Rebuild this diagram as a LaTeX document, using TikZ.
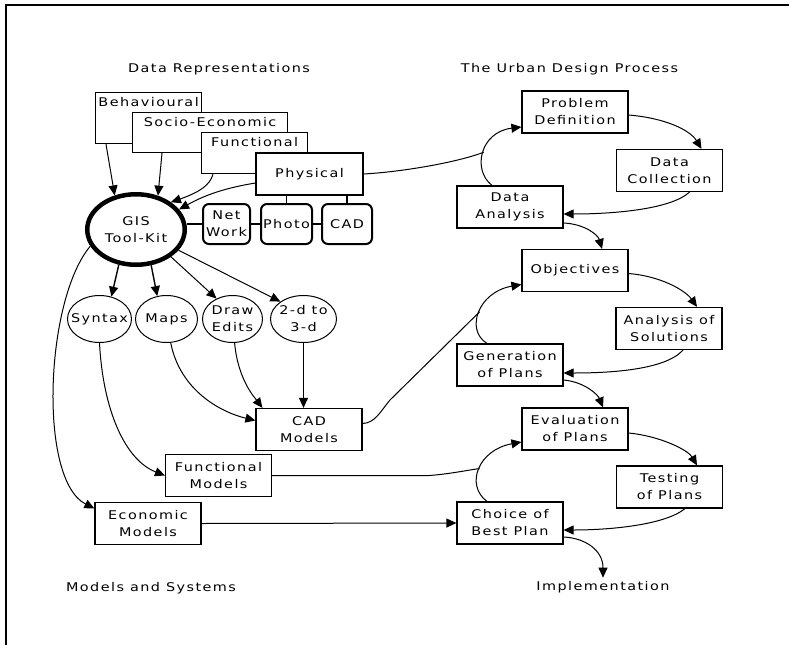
\documentclass[tikz,border=0pt]{standalone}
\usepackage{fontspec}
\setmainfont{DejaVu Sans}[FakeStretch=1.2,LetterSpace=12]
\usetikzlibrary{arrows.meta, shapes.geometric, calc}

\tikzset{
  box/.style={draw, fill=white, line width=1.2pt, minimum width=106pt, minimum height=42pt, inner sep=1pt, align=center},
  databox/.style={draw, fill=white, line width=1.2pt, anchor=north west, inner sep=0pt, align=center, text height=14pt},
  tool/.style={draw, fill=white, rounded corners=6pt, line width=2pt, minimum height=40pt, inner sep=0pt, align=center},
  oval/.style={draw, ellipse, line width=1pt, minimum height=47pt, inner sep=0pt, align=center},
  link/.style={line width=1pt, -{Triangle[length=10pt,width=9pt]}},
  bar/.style={line width=1.5pt}
}
\newcommand{\zw}[1]{\makebox[0pt]{#1}}

\begin{document}
\begin{tikzpicture}[x=1pt, y=-1pt, font=\fontsize{12pt}{17pt}\selectfont]
\useasboundingbox (0,0) rectangle (789,645);
\draw[line width=1.5pt] (6,645) -- (6,5) -- (789,5); %frame

\node (tdr) at (219,69) {Data Representations};
\node (tudp) at (569.5,69) {The Urban Design Process};
\node (tms) at (151,588) {Models and Systems};
\node (timp) at (603,587) {Implementation};

% data representations
\node[databox, text width=106pt, text depth=37pt] (beh) at (95,92) {Behavioural};
\node[databox, text width=155pt, text depth=26pt] (soc) at (132,112) {Socio-Economic};
\node[databox, text width=106pt, text depth=27pt] (fun) at (201,132) {Functional};
\node[box, minimum width=107pt] (phy) at (309.5,174) {Physical};

\node[draw, ellipse, line width=4.5pt, minimum width=97.5pt, minimum height=70.5pt, inner sep=0pt, align=center] (gis) at (136,229.5) {\zw{GIS}\\\zw{Tool-Kit}};
\node[tool, minimum width=47pt] (net) at (226.5,224) {\zw{Net}\\\zw{Work}};
\node[tool, minimum width=51pt] (pho) at (286.5,224) {\zw{Photo}};
\node[tool, minimum width=50pt] (cad) at (347,224) {\zw{CAD}};

\node[oval, minimum width=64pt] (syn) at (99.5,319) {\zw{Syntax}};
\node[oval, minimum width=62pt] (map) at (166.5,319) {\zw{Maps}};
\node[oval, minimum width=60pt] (dre) at (232.5,319) {\zw{Draw}\\\zw{Edits}};
\node[oval, minimum width=66pt] (two) at (303.5,319) {\zw{2-d to}\\\zw{3-d}};

% models and systems
\node[box] (cadm) at (309,429.5) {CAD\\Models};
\node[box] (fnm) at (218.5,475.5) {Functional\\Models};
\node[box] (ecm) at (148,523.5) {Economic\\Models};

% urban design process
\node[box] (prob) at (575,112) {Problem\\Definition};
\node[box] (dcol) at (669.5,170.5) {Data\\Collection};
\node[box] (dana) at (510,207) {Data\\Analysis};
\node[box] (obj) at (575,270.5) {Objectives};
\node[box] (aos) at (669,328.5) {Analysis of\\Solutions};
\node[box] (gen) at (510,365) {Generation\\of Plans};
\node[box] (evl) at (575,429) {Evaluation\\of Plans};
\node[box] (tst) at (669.5,487) {Testing\\of Plans};
\node[box] (cho) at (510,523) {Choice of\\Best Plan};

% tool-kit links
\draw[bar] (net.west) -- (net.west -| gis.east);
\draw[bar] (net) -- (pho);
\draw[bar] (pho) -- (cad);
\draw[bar] (pho.north) -- (pho.north |- phy.south);
\draw[bar] (cad.north) -- (cad.north |- phy.south);

% into the tool-kit
\draw[link] ([xshift=11pt]beh.south west) -- (gis.122);
\draw[link] ([xshift=30pt]soc.south west) -- (gis.57);
\draw[link] ([xshift=12pt]fun.south west) .. controls (210,185) and (200,192) .. (gis.38);
\draw[link] ([yshift=-9pt]phy.west) .. controls (225,188) and (205,195) .. (gis.25);

% out of the tool-kit
\draw[link, line width=1.4pt] (gis.244) -- (syn.62);
\draw[link, line width=1.4pt] (gis.293) -- (map.112);
\draw[link] (gis.322) -- (dre.128);
\draw[link] (gis.334) -- (two.143);
\draw[link] (gis.200) .. controls (45,300) and (38,480) .. ([yshift=15pt]ecm.west);

\draw[link] (syn.south) .. controls (103,410) and (125,460) .. (fnm.west);
\draw[link] (map.-80) .. controls (180,390) and (220,412) .. ([yshift=9pt]cadm.west);
\draw[link] (dre.-85) .. controls (238,380) and (255,398) .. ([xshift=7pt]cadm.north west);
\draw[link] (two.south) -- (two.south |- cadm.north);

% design cycle
\draw[link] ([xshift=-18pt]dana.north) .. controls (472,170) and (480,132) .. ([yshift=-15pt]prob.west) coordinate[pos=0.5] (jn1);
\draw[link] ([yshift=-3pt]prob.east) .. controls (665,118) and (690,130) .. ([xshift=32pt]dcol.north);
\draw[link] ([xshift=20pt]dcol.south) .. controls (670,210) and (610,214) .. ([yshift=-7pt]dana.east);
\draw[link] ([yshift=-16pt]dana.east) .. controls (585,224) and (598,235) .. ([xshift=27pt]obj.north);
\draw[link] ([xshift=-23pt]gen.north) .. controls (465,330) and (478,292) .. ([yshift=-14pt]obj.west) coordinate[pos=0.5] (jn2);
\draw[link] ([yshift=-3pt]obj.east) .. controls (660,276) and (685,290) .. ([xshift=28pt]aos.north);
\draw[link] ([xshift=14pt]aos.south) .. controls (665,370) and (610,373) .. ([yshift=-8pt]gen.east);
\draw[link] ([yshift=-15pt]gen.east) .. controls (585,382) and (598,395) .. ([xshift=28pt]evl.north);
\draw[link] ([xshift=-23pt]cho.north) .. controls (465,485) and (478,450) .. ([yshift=-13pt]evl.west) coordinate[pos=0.5] (jn3);
\draw[link] ([yshift=-4pt]evl.east) .. controls (660,436) and (688,450) .. ([xshift=27.5pt]tst.north);
\draw[link] ([xshift=15.5pt]tst.south) .. controls (665,525) and (610,530) .. ([yshift=-7pt]cho.east);
\draw[link] ([yshift=-14pt]cho.east) .. controls (585,538) and (603,550) .. (timp.north);

% models feeding the process
\draw[line width=1pt] (phy.east) .. controls (400,172) and (455,163) .. (jn1);
\draw[line width=1pt] ([yshift=6pt]cadm.east) .. controls (375,423) and (380,412) .. (390,400) -- (jn2);
\draw[line width=1pt] (fnm.east) -- ++(157,0) .. controls (450,474) and (468,470) .. (jn3);
\draw[link] (ecm.east) -- (cho.west);
\end{tikzpicture}
\end{document}
